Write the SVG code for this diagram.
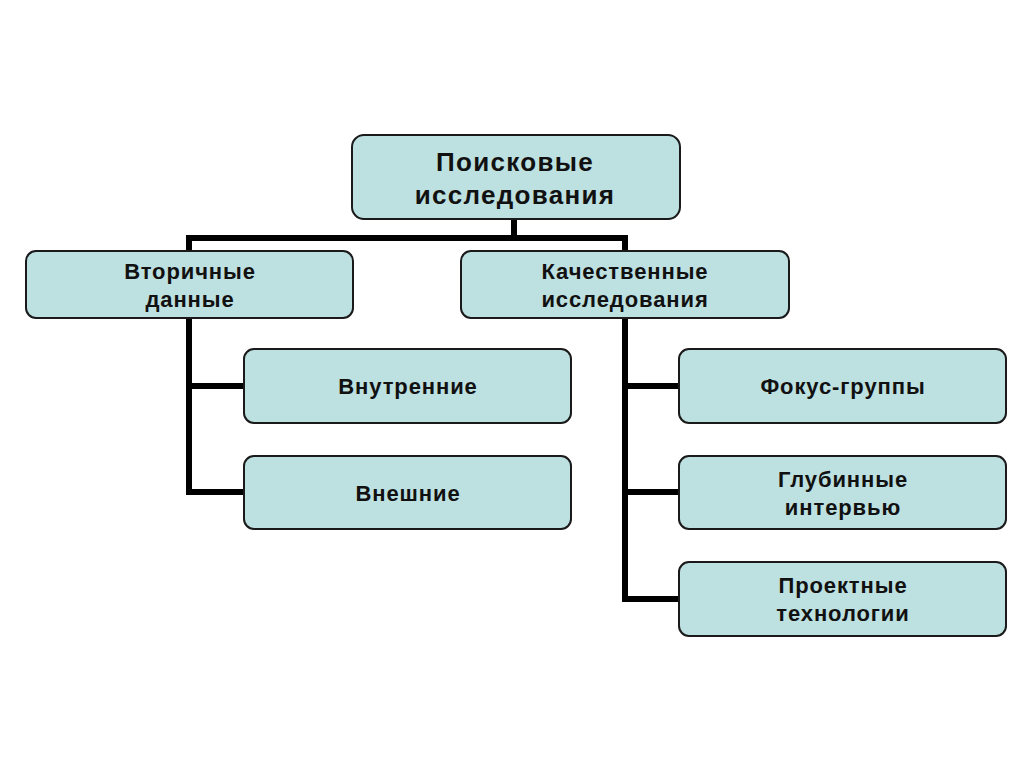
<svg xmlns="http://www.w3.org/2000/svg" width="1024" height="767" viewBox="0 0 1024 767">
<style>
.box{fill:#bde0e0;stroke:#1a1a1a;stroke-width:2}
.t{font-family:"Liberation Sans",Arial,sans-serif;font-weight:bold;fill:#111;text-anchor:middle}
.s{font-size:22px;letter-spacing:0.9px}
.b{font-size:26px;letter-spacing:1.3px}
.c{fill:none;stroke:#000;stroke-width:6;stroke-linejoin:miter}
</style>
<rect width="1024" height="767" fill="#fff"/>
<g id="connectors">
<path class="c" d="M514 219V238M189 251V238H625V251"/>
<path class="c" d="M189 318V492H244M189 386H244"/>
<path class="c" d="M625 318V599H679M625 386H679M625 492H679"/>
</g>
<g id="n-root"><rect class="box" x="352" y="135" width="328" height="84" rx="12"/>
<text class="t b" x="515" y="171">Поисковые</text><text class="t b" x="515" y="204">исследования</text></g>
<g id="n-secondary"><rect class="box" x="26" y="251" width="327" height="67" rx="10"/>
<text class="t s" x="190" y="279">Вторичные</text><text class="t s" x="190" y="307">данные</text></g>
<g id="n-qualitative"><rect class="box" x="461" y="251" width="328" height="67" rx="10"/>
<text class="t s" x="625" y="279">Качественные</text><text class="t s" x="625" y="307">исследования</text></g>
<g id="n-internal"><rect class="box" x="244" y="349" width="327" height="74" rx="10"/>
<text class="t s" x="408" y="394">Внутренние</text></g>
<g id="n-external"><rect class="box" x="244" y="456" width="327" height="73" rx="10"/>
<text class="t s" x="408" y="501">Внешние</text></g>
<g id="n-focus"><rect class="box" x="679" y="349" width="327" height="74" rx="10"/>
<text class="t s" x="843" y="394">Фокус-группы</text></g>
<g id="n-depth"><rect class="box" x="679" y="456" width="327" height="73" rx="10"/>
<text class="t s" x="843" y="487">Глубинные</text><text class="t s" x="843" y="515">интервью</text></g>
<g id="n-project"><rect class="box" x="679" y="562" width="327" height="74" rx="10"/>
<text class="t s" x="843" y="593">Проектные</text><text class="t s" x="843" y="621">технологии</text></g>
</svg>
